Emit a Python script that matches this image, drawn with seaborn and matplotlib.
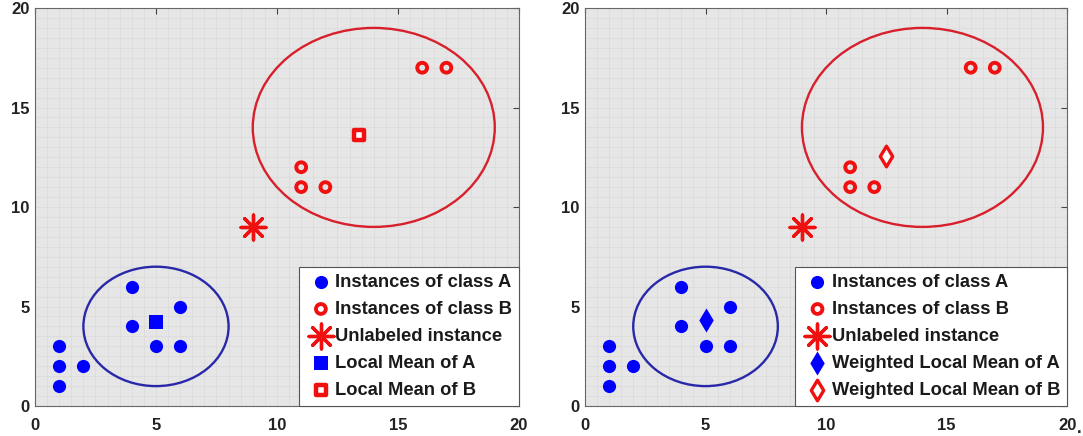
import numpy as np
import pandas as pd
import matplotlib
matplotlib.use("Agg")
import matplotlib.pyplot as plt
from matplotlib.patches import Ellipse
from matplotlib.ticker import MultipleLocator
import seaborn as sns

# Training instances
class_a_x = [1, 1, 1, 2, 4, 4, 5, 6, 6]
class_a_y = [1, 2, 3, 2, 4, 6, 3, 3, 5]
class_b_x = [11, 11, 12, 16, 17]
class_b_y = [11, 12, 11, 17, 17]

# Query point
query_x = [9]
query_y = [9]

# Local means (left panel) and weighted local means (right panel)
local_mean_a = ([5.0], [4.2])
local_mean_b = ([13.4], [13.6])
weighted_mean_a = ([5.0], [4.3])
weighted_mean_b = ([12.5], [12.55])

# Neighbourhood circles: (centre x, centre y, radius)
region_a = (5, 4, 3)
region_b = (14, 14, 5)

mean_labels_left = ["Local Mean of A", "Local Mean of B"]
mean_labels_right = ["Weighted Local Mean of A", "Weighted Local Mean of B"]
ticks = [0, 5, 10, 15, 20]

sns.set_style("white")
plt.rcParams["font.family"] = ["Liberation Sans", "DejaVu Sans"]
plt.rcParams["font.weight"] = "bold"

BLUE = "#0000ff"
RED = "#f01010"
BLUE_LINE = "#2828a8"
RED_LINE = "#d8202c"

fig = plt.figure(figsize=(10.83, 4.36), dpi=100)
ax_left = fig.add_axes([0.0323, 0.0688, 0.4469, 0.9128])
ax_right = fig.add_axes([0.5402, 0.0688, 0.4451, 0.9128])


def draw_panel(ax, mean_a, mean_b, labels, style_a, style_b):
    ax.set_facecolor("#e6e6e6")
    for cx, cy, r, col in [(*region_a, BLUE_LINE), (*region_b, RED_LINE)]:
        ax.add_patch(Ellipse((cx, cy), 2 * r, 2 * r, fill=False,
                             edgecolor=col, linewidth=1.7, zorder=2))

    sns.scatterplot(x=class_a_x, y=class_a_y, ax=ax, color=BLUE, marker="o",
                    s=90, edgecolor=BLUE, linewidth=0, zorder=3,
                    label="Instances of class A")
    sns.scatterplot(x=class_b_x, y=class_b_y, ax=ax, marker="o", s=50,
                    facecolor="none", edgecolor=RED, linewidth=2.8, zorder=3,
                    label="Instances of class B")
    sns.scatterplot(x=query_x, y=query_y, ax=ax, marker=(8, 2, 0), s=320,
                    color=RED, edgecolor=RED, linewidth=2.4, zorder=3,
                    label="Unlabeled instance")
    sns.scatterplot(x=mean_a[0], y=mean_a[1], ax=ax, marker=style_a[0],
                    s=style_a[1], color=BLUE, edgecolor=BLUE, linewidth=0,
                    zorder=3, label=labels[0])
    sns.scatterplot(x=mean_b[0], y=mean_b[1], ax=ax, marker=style_b[0],
                    s=style_b[1], facecolor="white", edgecolor=RED,
                    linewidth=style_b[2], zorder=3, label=labels[1])

    ax.set_xlim(0, 20)
    ax.set_ylim(0, 20)
    ax.set_xticks(ticks)
    ax.set_yticks(ticks)
    ax.xaxis.set_minor_locator(MultipleLocator(0.5))
    ax.yaxis.set_minor_locator(MultipleLocator(0.5))
    ax.grid(which="both", color="#dadada", linewidth=0.5)
    ax.set_axisbelow(True)
    ax.tick_params(which="major", direction="in", length=4, width=0.8,
                   top=True, right=True, labelsize=12, color="#444444")
    ax.tick_params(axis="x", which="major", pad=8.5)
    ax.tick_params(axis="y", which="major", pad=4)
    ax.tick_params(which="minor", length=0)
    for lab in ax.get_xticklabels() + ax.get_yticklabels():
        lab.set_fontweight("bold")
        lab.set_color("#222222")
    for sp in ax.spines.values():
        sp.set_color("#666666")
        sp.set_linewidth(0.8)

    leg = ax.legend(loc="lower right", borderaxespad=0, frameon=True,
                    fancybox=False, framealpha=1, edgecolor="#555555",
                    prop={"size": 13.2, "weight": "bold"},
                    handletextpad=-0.05, handlelength=1.64, labelspacing=0.55,
                    borderpad=0.38)
    leg.get_frame().set_linewidth(0.8)
    for t in leg.get_texts():
        t.set_color("#1a1a1a")


draw_panel(ax_left, local_mean_a, local_mean_b, mean_labels_left,
           ("s", 110), ("s", 50, 3.2))
draw_panel(ax_right, weighted_mean_a, weighted_mean_b, mean_labels_right,
           ("d", 150), ("d", 110, 2.4))

fig.text(1077 / 1083, 0.008, ".", fontsize=12, fontweight="bold",
         ha="left", va="baseline", color="#222222")

fig.savefig("out.png", dpi=100)
